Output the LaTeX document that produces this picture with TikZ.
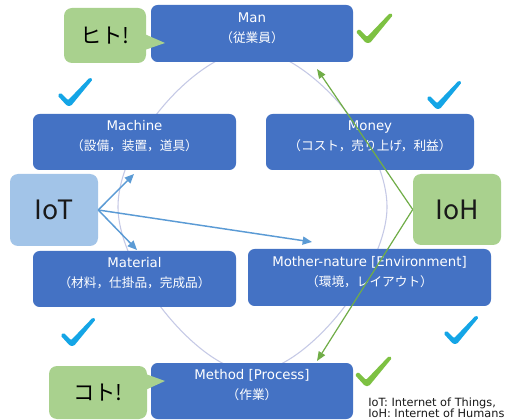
\documentclass[tikz,border=0pt]{standalone}
\usepackage{fontspec}
\usetikzlibrary{arrows.meta,calc}
\newfontfamily\lat{DejaVu Sans}
\newfontfamily\jp{Noto Sans CJK JP}
\definecolor{boxblue}{HTML}{4472C4}
\definecolor{iotfill}{HTML}{A2C4E8}
\definecolor{greenfill}{HTML}{A9D18E}
\definecolor{ringc}{HTML}{C5C9E6}
\definecolor{arrblue}{HTML}{5B9BD5}
\definecolor{arrgreen}{HTML}{70AD47}
\definecolor{chkgreen}{HTML}{7DC142}
\definecolor{chkblue}{HTML}{14A5E6}
\newcommand{\twol}[2]{\raisebox{3.4pt}[\height][\depth]{\begin{tabular}{@{}c@{}}\fontsize{10}{12}\lat #1\\[3pt]\fontsize{9.5}{12}\jp #2\end{tabular}}}
\tikzset{
  mbox/.style={fill=boxblue, rounded corners=5pt, text=white, align=center, inner sep=0pt},
  bigbox/.style={rounded corners=6pt, inner sep=0pt, text=black!90, font=\fontsize{20}{20}\jp},
  callbox/.style={fill=greenfill, rounded corners=6pt, inner sep=0pt, text=black, font=\fontsize{16}{16}\jp},
  iotarrow/.style={draw=arrblue, line width=1.1pt, -{Triangle[length=7pt,width=6pt]}},
  iohar/.style={draw=arrgreen, line width=0.9pt, -{Triangle[length=7pt,width=5.5pt]}},
  chk/.pic={\fill[pic actions, rounded corners=1pt] (-12,-10) -- (-9,-13) -- (-1,-5) -- (22,-29) -- (25,-27) -- (2,1) -- (-2,1) -- cycle;},
  note/.style={anchor=base west, inner sep=0pt, font=\fontsize{8.5}{10}\lat, text=black!90}
}
\begin{document}
\begin{tikzpicture}[x=0.75pt,y=-0.75pt]
\useasboundingbox (0,0) rectangle (507,420);
\clip (0,0) rectangle (507,420);
\fill[white] (0,0) rectangle (507,420);
% ring
\draw[ringc, line width=0.8pt] (387,207) .. controls (387,140) and (305,50) .. (252.5,50)
  .. controls (200,50) and (118,140) .. (118,207)
  .. controls (118,270) and (200,372) .. (252.5,372)
  .. controls (305,372) and (387,270) .. cycle;
% M boxes
\node[mbox, minimum width=151.5pt, minimum height=42.75pt] (man) at (252,33.5) {\twol{Man}{（従業員）}};
\node[mbox, minimum width=152.25pt, minimum height=42pt] (machine) at (134.5,142) {\twol{Machine}{（設備，装置，道具）}};
\node[mbox, minimum width=156pt, minimum height=42pt] (money) at (370,142) {\twol{Money}{（コスト，売り上げ，利益）}};
\node[mbox, minimum width=152.25pt, minimum height=42pt] (material) at (134.5,279) {\twol{Material}{（材料，仕掛品，完成品）}};
\node[mbox, minimum width=182.25pt, minimum height=42.75pt] (mother) at (369.5,277.5) {\twol{Mother-nature [Environment]}{（環境，レイアウト）}};
\node[mbox, minimum width=151.5pt, minimum height=42pt] (method) at (252,391) {\twol{Method [Process]}{（作業）}};
% IoT / IoH
\node[bigbox, fill=iotfill, minimum width=66pt, minimum height=54pt] (iot) at (54,210) {IoT};
\node[bigbox, fill=greenfill, minimum width=66pt, minimum height=53.25pt] (ioh) at (457,209.5) {IoH};
% IoT arrows
\coordinate (tmach) at (134,174);
\coordinate (tmat) at (137,250);
\coordinate (tmoth) at (312,242);
\draw[iotarrow] (iot.east) -- (tmach);
\draw[iotarrow] (iot.east) -- (tmat);
\draw[iotarrow] (iot.east) -- (tmoth);
% IoH arrows
\coordinate (tman) at (317,69);
\coordinate (tmeth) at (317,361);
\draw[iohar] (ioh.west) -- (tman);
\draw[iohar] (ioh.west) -- (tmeth);
% callouts
\node[callbox, minimum width=61.5pt, minimum height=41.25pt] (hito) at (105,35.5) {ヒト!};
\coordinate (hitotip) at (165,43);
\fill[greenfill] ($(hito.east)+(-3,-2)$) -- (hitotip) -- ($(hito.east)+(-3,15)$) -- cycle;
\node[callbox, minimum width=73.5pt, minimum height=39.75pt] (koto) at (98,392.5) {コト!};
\coordinate (kototip) at (165,381);
\fill[greenfill] ($(koto.east)+(-3,-19)$) -- (kototip) -- ($(koto.east)+(-3,-2)$) -- cycle;
% checks
\pic[fill=chkgreen] at (368,42) {chk};
\pic[fill=chkgreen] at (367,385) {chk};
\pic[fill=chkblue, scale=0.95] at (69,105) {chk};
\pic[fill=chkblue, scale=0.95] at (438,108) {chk};
\pic[fill=chkblue, scale=0.95] at (72,345) {chk};
\pic[fill=chkblue, scale=0.95] at (455,343) {chk};
% notes
\node[note] (n1) at (368,406) {IoT: Internet of Things,};
\node[note] (n2) at (368,417.5) {IoH: Internet of Humans};
\end{tikzpicture}
\end{document}
